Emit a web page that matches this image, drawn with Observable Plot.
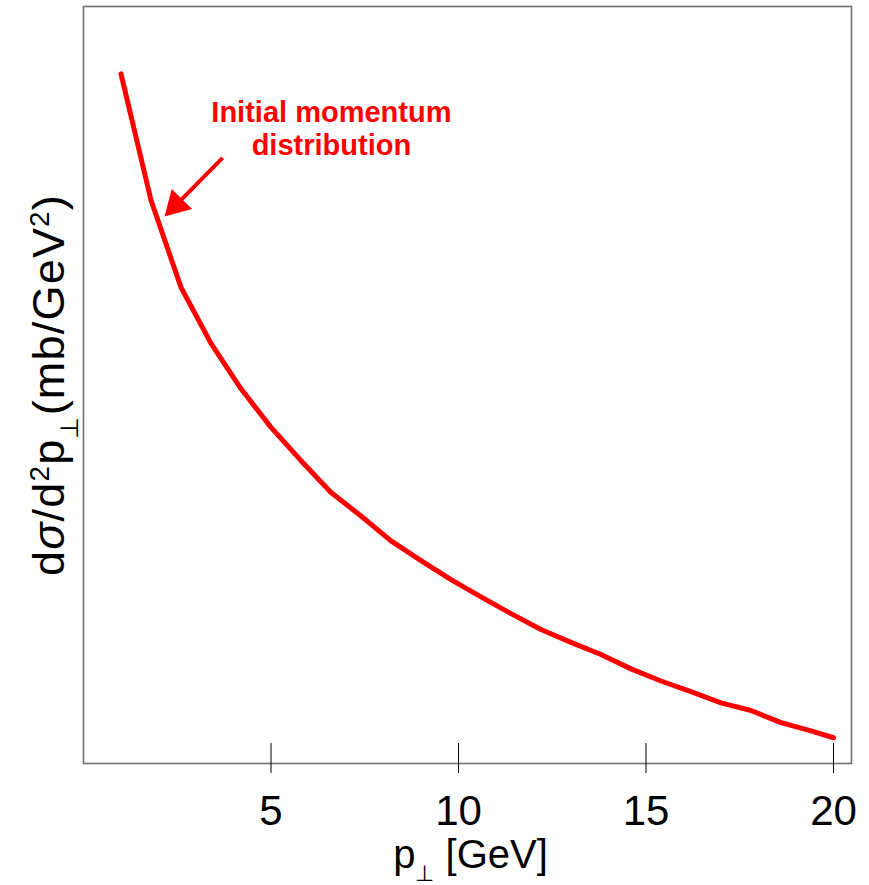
<!DOCTYPE html>
<html>
<head>
<meta charset="utf-8">
<script src="https://cdn.jsdelivr.net/npm/d3@7"></script>
<script src="https://cdn.jsdelivr.net/npm/@observablehq/plot@0.6"></script>
<style>
  html, body { margin: 0; padding: 0; background: #fff; }
  #chart svg { display: block; }
</style>
</head>
<body>
<div id="chart"></div>
<script>
// ---- data (y in arbitrary units, 0..100 of frame height) ----
const pT = [1.0, 1.8, 2.6, 3.4, 4.2, 5.0, 5.8, 6.6, 7.4, 8.2, 9.0, 9.8, 10.6, 11.4, 12.2, 13.0, 13.8, 14.6, 15.4, 16.2, 17.0, 17.8, 18.6, 19.4, 20.0];
const dsigma = [91.1, 74.4, 62.9, 55.5, 49.5, 44.4, 40.0, 35.8, 32.7, 29.4, 26.8, 24.3, 22.0, 19.8, 17.7, 16.0, 14.4, 12.5, 10.9, 9.5, 8.0, 7.0, 5.4, 4.3, 3.4];
const xTicks = [5, 10, 15, 20];
const xLabelParts = [["p", ""], ["\u22A5", "sub"], [" [GeV]", ""]];
const yLabelParts = [["d", ""], ["\u03C3", "it"], ["/d", ""], ["2", "sup"], ["p", ""], ["\u22A5", "sub"], ["(mb/GeV", ""], ["2", "sup"], [")", ""]];
const noteLines = ["Initial momentum", "distribution"];
const notePos = [{x: 6.61, y: 83.9}];
const arrowShaft = [{x1: 3.71, y1: 80.0, x2: 2.61, y2: 74.5}];
const arrowHead = [{x: 2.47, y: 73.8}];

const plain = parts => parts.map(p => p[0]).join("");
const xLabel = plain(xLabelParts);
const yLabel = plain(yLabelParts);
const curve = pT.map((x, i) => ({x, y: dsigma[i]}));

const W = 869, H = 885, mTop = 6, mBottom = 122, mLeft = 83, mRight = 18;
const frameH = H - mTop - mBottom;
const red = "#ff0000";

const chart = Plot.plot({
  width: W, height: H,
  marginTop: mTop, marginBottom: mBottom, marginLeft: mLeft, marginRight: mRight,
  style: {fontFamily: "'Liberation Sans', Arial, sans-serif", background: "white", color: "black"},
  x: {domain: [0, 20.48], axis: null},
  y: {domain: [0, 100], axis: null},
  marks: [
    Plot.frame({stroke: "#707070", strokeWidth: 1.6}),
    Plot.ruleX(xTicks, {stroke: "black", strokeWidth: 1, insetTop: frameH - 20, insetBottom: -10}),
    Plot.axisX(xTicks, {tickSize: 0, tickPadding: 32, fontSize: 42, label: null, tickFormat: d => String(d)}),
    Plot.text([xLabel], {frameAnchor: "bottom", dy: 104, dx: 3, fontSize: 40, textAnchor: "middle"}),
    Plot.text([yLabel], {frameAnchor: "left", rotate: -90, dx: -34, fontSize: 45, textAnchor: "middle"}),
    Plot.line(curve, {x: "x", y: "y", stroke: red, strokeWidth: 5, strokeLinejoin: "round", strokeLinecap: "round"}),
    Plot.link(arrowShaft, {x1: "x1", y1: "y1", x2: "x2", y2: "y2", stroke: red, strokeWidth: 4}),
    Plot.dot(arrowHead, {x: "x", y: "y", symbol: "triangle", r: 10.6, rotate: 224.5, fill: red, stroke: "none"}),
    Plot.text(notePos, {x: "x", y: "y", text: () => noteLines.join("\n"), fill: red, fontWeight: "bold", fontSize: 29, lineHeight: 1.14, textAnchor: "middle"})
  ]
});

function richText(svg, match, parts, spacing) {
  d3.select(svg).selectAll("text").filter(function () { return this.textContent === match; }).each(function () {
    const t = d3.select(this);
    t.text(null);
    if (spacing) t.attr("letter-spacing", spacing);
    for (const [s, kind] of parts) {
      const ts = t.append("tspan").text(s);
      if (kind === "sup") ts.attr("baseline-shift", "super").attr("font-size", "62%");
      if (kind === "sub") ts.attr("baseline-shift", "sub").attr("font-size", "55%");
      if (kind === "it") ts.attr("font-style", "italic");
    }
  });
}
richText(chart, xLabel, xLabelParts);
richText(chart, yLabel, yLabelParts, 1.2);

document.getElementById("chart").appendChild(chart);
</script>
</body>
</html>
